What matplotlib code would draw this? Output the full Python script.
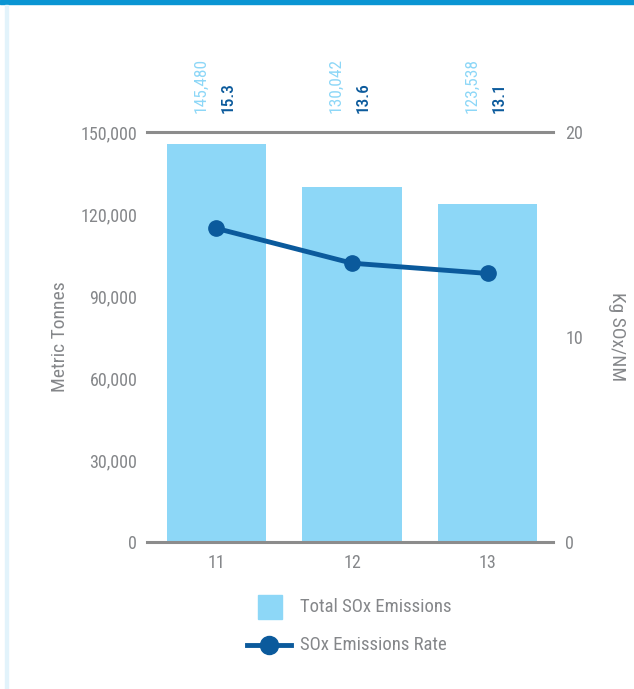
import matplotlib
matplotlib.use("Agg")
import matplotlib.pyplot as plt
from matplotlib.lines import Line2D
from matplotlib.patches import Rectangle
import numpy as np

# ── Data ──────────────────────────────────────────────────────────────────────
years = ["11", "12", "13"]
total_sox = [145480, 130042, 123538]          # metric tonnes
sox_rate = [15.3, 13.6, 13.1]                 # kg SOx / NM
total_labels = ["145,480", "130,042", "123,538"]
rate_labels = ["15.3", "13.6", "13.1"]

BAR = "#8dd7f7"
LINE = "#0b5a9c"
GREY = "#85878a"
AXIS = "#8c8c8c"

plt.rcParams["font.family"] = ["Roboto Condensed", "Roboto", "DejaVu Sans"]

W, H = 634, 689
fig = plt.figure(figsize=(W / 100, H / 100), dpi=100)

def fx(px):
    return px / W

def fy(py):
    return 1 - py / H

# page decoration: top blue band, faint left rule
fig.patches.append(Rectangle((0, fy(3.5)), 1, 3.5 / H, transform=fig.transFigure,
                             color="#0a95d3", zorder=0))
fig.patches.append(Rectangle((fx(5), 0), 2.5 / W, fy(4.5), transform=fig.transFigure,
                             color="#e2f3fb", zorder=0))

ax = fig.add_axes([fx(147), fy(542), 406 / W, 410 / H])
x = np.arange(len(years))
ax.bar(x, total_sox, width=0.73, color=BAR, zorder=2)
ax.set_xlim(-0.51, 2.48)
ax.set_ylim(0, 150000)
ax.set_yticks(np.arange(0, 150001, 30000))
ax.set_yticklabels([f"{v:,}" for v in range(0, 150001, 30000)])
ax.set_xticks(x)
ax.set_xticklabels(years)

for s in ["left", "right"]:
    ax.spines[s].set_visible(False)
for s in ["top", "bottom"]:
    ax.spines[s].set_color(AXIS)
    ax.spines[s].set_linewidth(2.2)
ax.tick_params(axis="both", length=0, colors=GREY, labelsize=13)
ax.tick_params(axis="y", pad=7)
ax.tick_params(axis="x", pad=9)
ax.set_ylabel("Metric Tonnes", color=GREY, fontsize=14, va="center")
ax.yaxis.set_label_coords(-0.214, 0.5)

ax2 = ax.twinx()
ax2.plot(x, sox_rate, color=LINE, lw=3.5, marker="o", markersize=11, zorder=3)
ax2.set_ylim(0, 20)
ax2.set_yticks([0, 10, 20])
for s in ["left", "right", "top", "bottom"]:
    ax2.spines[s].set_visible(False)
ax2.tick_params(axis="y", length=0, colors=GREY, labelsize=13, pad=9)
ax2.set_ylabel("Kg SOx/NM", color=GREY, fontsize=14, rotation=270, va="center")
ax2.yaxis.set_label_coords(1.158, 0.5)

# value labels above the plot
tr = ax.get_xaxis_transform()
for i in range(len(years)):
    ax.text(x[i] - 0.115, 1.047, total_labels[i], transform=tr, rotation=90,
            ha="center", va="bottom", color=BAR, fontsize=12.5)
    ax.text(x[i] + 0.085, 1.047, rate_labels[i], transform=tr, rotation=90,
            ha="center", va="bottom", color=LINE, fontsize=12.5, fontweight="medium")

# legend drawn by hand in figure pixels
fig.patches.append(Rectangle((fx(258), fy(619)), 24 / W, 24 / H,
                             transform=fig.transFigure, color=BAR))
fig.text(fx(300), fy(607), "Total SOx Emissions", color=GREY, fontsize=13.5, va="center")
fig.lines.append(Line2D([fx(247), fx(291)], [fy(645), fy(645)], transform=fig.transFigure,
                        color=LINE, lw=3.5))
fig.lines.append(Line2D([fx(269)], [fy(645)], transform=fig.transFigure,
                        color=LINE, marker="o", markersize=13))
fig.text(fx(300), fy(645), "SOx Emissions Rate", color=GREY, fontsize=13.5, va="center")

fig.savefig("out.png", dpi=100)
